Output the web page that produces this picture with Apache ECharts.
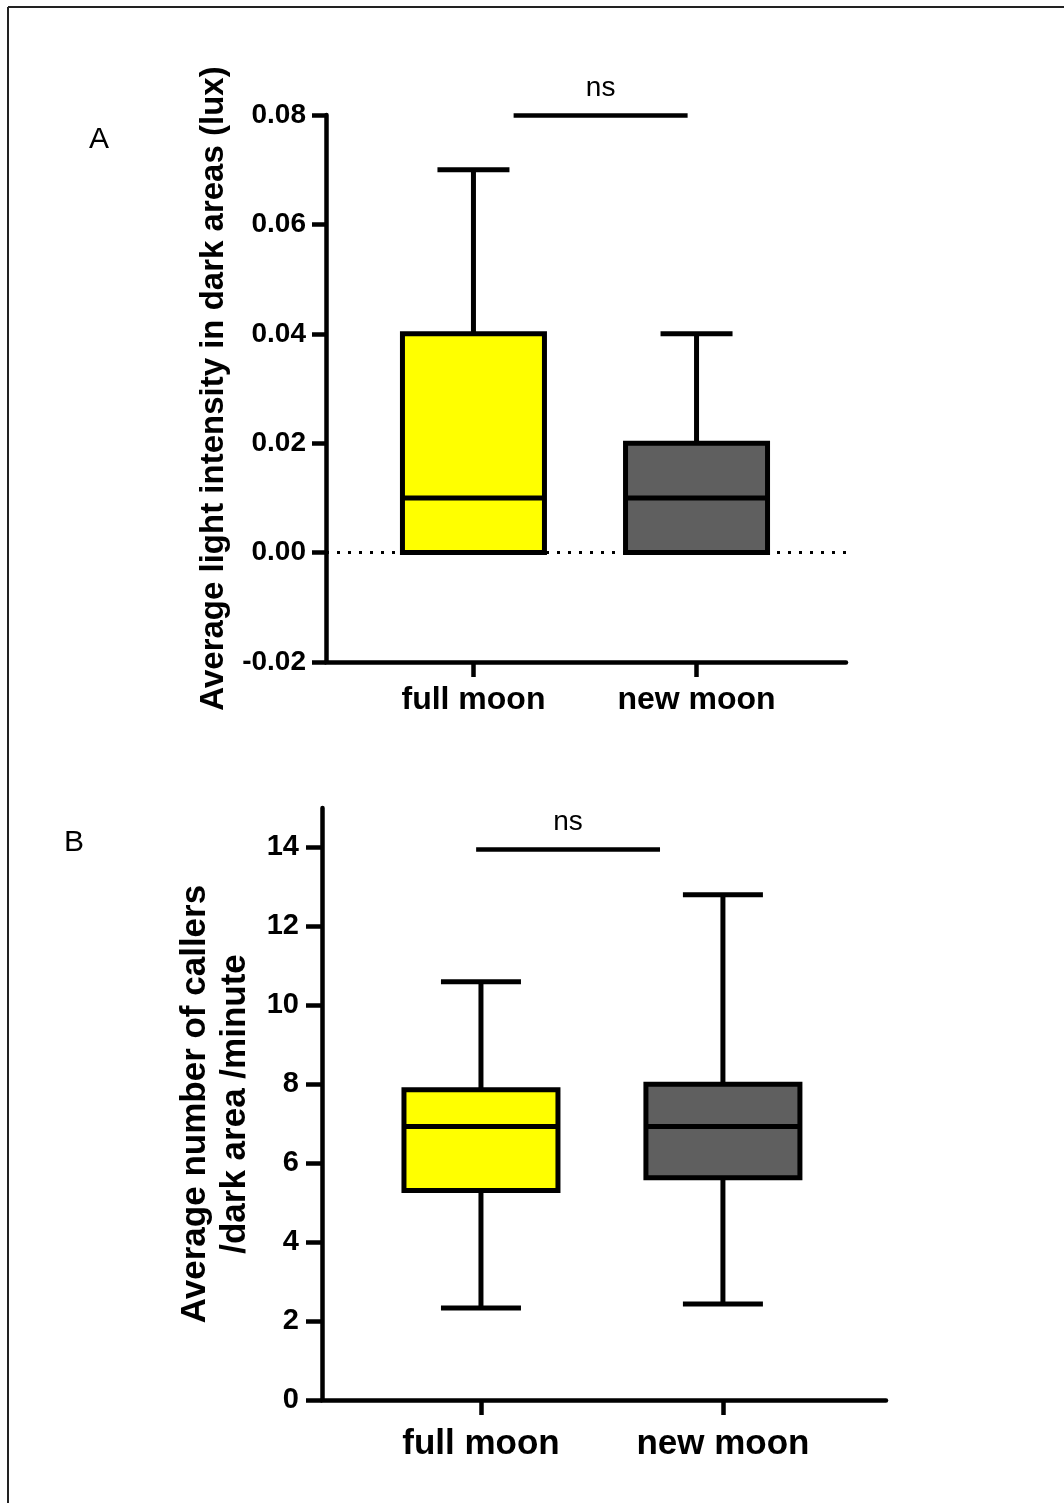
<!DOCTYPE html>
<html>
<head>
<meta charset="utf-8">
<script src="https://cdn.jsdelivr.net/npm/echarts@6/dist/echarts.min.js"></script>
<style>
  html, body { margin: 0; padding: 0; background: #fff; }
  #main { width: 1064px; height: 1503px; }
</style>
</head>
<body>
<div id="main"></div>
<script>
  // groups, in x order
  var categories = ['full moon', 'new moon'];
  var boxColors = ['#ffff00', '#5f5f5f'];

  // panel A - light intensity (lux): min, q1, median, q3, max
  var lightFull = [0, 0, 0.01, 0.04, 0.07];
  var lightNew = [0, 0, 0.01, 0.02, 0.04];
  var lightTicks = [-0.02, 0, 0.02, 0.04, 0.06, 0.08];

  // panel B - callers / dark area / minute: min, q1, median, q3, max
  var callersFull = [2.33, 5.31, 6.93, 7.86, 10.6];
  var callersNew = [2.43, 5.63, 6.93, 8.0, 12.8];
  var callerTicks = [0, 2, 4, 6, 8, 10, 12, 14];

  // "ns" comparison bars: [x from, x to, y]
  var nsA = [0.18, 0.96, 0.08];
  var nsB = [-0.02, 0.74, 13.95];

  var FONT = 'Liberation Sans, Arial, sans-serif';
  var LW = 4.5;

  function boxItem(halfBox, halfCap) {
    return function (params, api) {
      var x = api.value(0);
      var ys = [1, 2, 3, 4, 5].map(function (d) { return api.coord([x, api.value(d)])[1]; });
      var cx = api.coord([x, 0])[0];
      var st = { stroke: '#000', lineWidth: 5 };
      var kids = [];
      if (Math.abs(ys[0] - ys[1]) > 1) {
        kids.push({ type: 'line', shape: { x1: cx, y1: ys[0], x2: cx, y2: ys[1] }, style: st });
        kids.push({ type: 'line', shape: { x1: cx - halfCap, y1: ys[0], x2: cx + halfCap, y2: ys[0] }, style: st });
      }
      kids.push({ type: 'line', shape: { x1: cx, y1: ys[3], x2: cx, y2: ys[4] }, style: st });
      kids.push({ type: 'line', shape: { x1: cx - halfCap, y1: ys[4], x2: cx + halfCap, y2: ys[4] }, style: st });
      kids.push({ type: 'rect', shape: { x: cx - halfBox, y: ys[3], width: halfBox * 2, height: ys[1] - ys[3] },
        style: { fill: boxColors[params.dataIndex], stroke: '#000', lineWidth: 5 } });
      kids.push({ type: 'line', shape: { x1: cx - halfBox, y1: ys[2], x2: cx + halfBox, y2: ys[2] }, style: st });
      return { type: 'group', children: kids };
    };
  }

  function xAxisOf(grid, min, max, fontSize, margin) {
    return {
      gridIndex: grid, type: 'value', min: min, max: max,
      axisLine: { onZero: false, lineStyle: { color: '#000', width: LW } },
      axisTick: { customValues: [0, 1], length: 15, lineStyle: { color: '#000', width: LW } },
      axisLabel: {
        customValues: [0, 1], margin: margin,
        formatter: function (v) { return categories[Math.round(v)]; },
        color: '#000', fontSize: fontSize, fontWeight: 'bold', fontFamily: FONT
      },
      splitLine: { show: false }
    };
  }

  function nsSeries(idx, ns, gap) {
    return {
      type: 'line', xAxisIndex: idx, yAxisIndex: idx, data: [], silent: true,
      markLine: {
        symbol: 'none', silent: true, animation: false,
        lineStyle: { color: '#000', width: LW, type: 'solid' },
        label: {
          show: true, position: 'insideMiddleTop', formatter: 'ns', distance: gap,
          color: '#000', fontSize: 28, fontFamily: FONT
        },
        data: [[{ coord: [ns[0], ns[2]] }, { coord: [ns[1], ns[2]] }]]
      }
    };
  }

  var option = {
    animation: false,
    backgroundColor: '#fff',
    grid: [
      { left: 326, top: 115, width: 520, height: 547 },
      { left: 322, top: 808, width: 564, height: 592 }
    ],
    xAxis: [
      xAxisOf(0, -0.661, 1.670, 32, 22),
      xAxisOf(1, -0.657, 1.674, 35, 27)
    ],
    yAxis: [
      {
        gridIndex: 0, type: 'value', min: -0.02, max: 0.08, interval: 0.02,
        name: 'Average light intensity in dark areas (lux)',
        nameLocation: 'middle', nameGap: 96,
        nameTextStyle: { color: '#000', fontSize: 33, fontWeight: 'bold', fontFamily: FONT },
        axisLine: { onZero: false, lineStyle: { color: '#000', width: LW } },
        axisTick: { customValues: lightTicks, length: 14, lineStyle: { color: '#000', width: LW } },
        axisLabel: {
          customValues: lightTicks, margin: 20,
          formatter: function (v) { return v.toFixed(2); },
          color: '#000', fontSize: 28, fontWeight: 'bold', fontFamily: FONT
        },
        splitLine: { show: false }
      },
      {
        gridIndex: 1, type: 'value', min: 0, max: 15,
        name: 'Average number of callers\n/dark area /minute',
        nameLocation: 'middle', nameGap: 67,
        nameTextStyle: { color: '#000', fontSize: 35, fontWeight: 'bold', fontFamily: FONT, lineHeight: 40 },
        axisLine: { onZero: false, lineStyle: { color: '#000', width: LW } },
        axisTick: { customValues: callerTicks, length: 16, lineStyle: { color: '#000', width: LW } },
        axisLabel: {
          customValues: callerTicks, margin: 23,
          color: '#000', fontSize: 29, fontWeight: 'bold', fontFamily: FONT
        },
        splitLine: { show: false }
      }
    ],
    series: [
      {
        type: 'line', xAxisIndex: 0, yAxisIndex: 0, data: [], silent: true,
        markLine: {
          symbol: 'none', silent: true, animation: false, label: { show: false },
          lineStyle: { color: '#000', width: 3, type: [3, 8] },
          data: [{ yAxis: 0 }]
        }
      },
      {
        type: 'custom', xAxisIndex: 0, yAxisIndex: 0,
        renderItem: boxItem(71, 36),
        encode: { x: 0, y: [1, 2, 3, 4, 5] },
        data: [[0].concat(lightFull), [1].concat(lightNew)]
      },
      {
        type: 'custom', xAxisIndex: 1, yAxisIndex: 1,
        renderItem: boxItem(77, 40),
        encode: { x: 0, y: [1, 2, 3, 4, 5] },
        data: [[0].concat(callersFull), [1].concat(callersNew)]
      },
      nsSeries(0, nsA, 13),
      nsSeries(1, nsB, 13)
    ],
    graphic: [
      { type: 'line', shape: { x1: 8, y1: 7, x2: 8, y2: 1503 }, style: { stroke: '#222', lineWidth: 2 } },
      { type: 'line', shape: { x1: 8, y1: 7, x2: 1064, y2: 7 }, style: { stroke: '#222', lineWidth: 2 } },
      { type: 'text', left: 89, top: 125, style: { text: 'A', fontSize: 30, fontFamily: FONT, fill: '#000' } },
      { type: 'text', left: 64, top: 828, style: { text: 'B', fontSize: 30, fontFamily: FONT, fill: '#000' } }
    ]
  };

  var myChart = echarts.init(document.getElementById('main'));
  myChart.setOption(option);
  window.addEventListener('resize', function () {
    myChart.resize();
  });
</script>
</body>
</html>
